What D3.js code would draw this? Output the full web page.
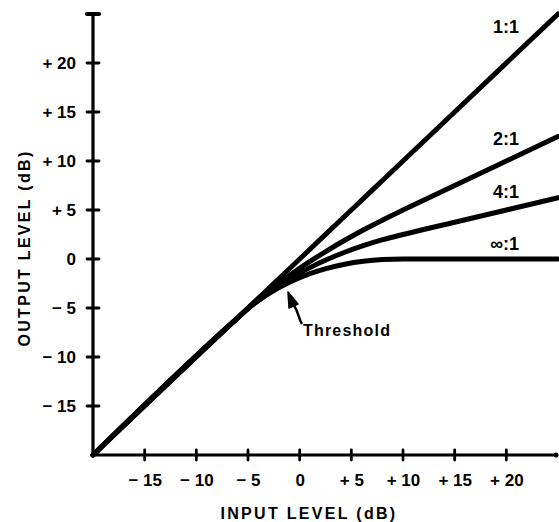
<!DOCTYPE html>
<html>
<head>
<meta charset="utf-8">
<script src="https://cdn.jsdelivr.net/npm/d3@7/dist/d3.min.js"></script>
<style>
  html, body { margin: 0; padding: 0; background: #fff; }
  svg { display: block; }
  text { font-family: "Liberation Sans", Arial, sans-serif; font-weight: bold; fill: #000; }
</style>
</head>
<body>
<svg id="chart" width="559" height="522"></svg>
<script>
// ---- data ----
const inputLevels = [-20, -6, -4.76, -3.44, -2.04, -0.56, 1.0, 2.64, 4.36, 6.16, 8.04, 10, 15, 25];
const ratio1to1   = [-20, -6, -4.76, -3.44, -2.04, -0.56, 1.0, 2.64, 4.36, 6.16, 8.04, 10, 15, 25];
const ratio2to1   = [-20, -6, -4.81, -3.64, -2.49, -1.36, -0.25, 0.84, 1.91, 2.96, 3.99, 5.0, 7.5, 12.5];
const ratio4to1   = [-20, -6, -4.84, -3.74, -2.72, -1.76, -0.88, -0.06, 0.69, 1.36, 1.97, 2.5, 3.75, 6.25];
const ratioInf    = [-20, -6, -4.86, -3.84, -2.94, -2.16, -1.5, -0.96, -0.54, -0.24, -0.06, 0, 0, 0];
const seriesNames = ["1:1", "2:1", "4:1", "∞:1"];
const xTickValues = [-15, -10, -5, 0, 5, 10, 15, 20];
const xTickLabels = ["− 15", "− 10", "− 5", "0", "+ 5", "+ 10", "+ 15", "+ 20"];
const yTickValues = [-15, -10, -5, 0, 5, 10, 15, 20];
const yTickLabels = ["− 15", "− 10", "− 5", "0", "+ 5", "+ 10", "+ 15", "+ 20"];
const xDomain = [-20, 25];
const yDomain = [-20, 25];
const xTitle = "INPUT LEVEL (dB)";
const yTitle = "OUTPUT LEVEL (dB)";
const thresholdLabel = "Threshold";

// ---- layout ----
const svg = d3.select("#chart");
const x = d3.scaleLinear().domain(xDomain).range([93, 558]);
const y = d3.scaleLinear().domain(yDomain).range([455, 14]);

const series = [ratio1to1, ratio2to1, ratio4to1, ratioInf].map((vals, i) => ({
  name: seriesNames[i],
  pts: inputLevels.map((v, j) => [v, vals[j]])
}));

// axes lines
svg.append("line").attr("x1", x(-20)).attr("x2", x(-20)).attr("y1", y(25)).attr("y2", y(-20))
  .attr("stroke", "#000").attr("stroke-width", 3.2);
svg.append("line").attr("x1", x(-20)).attr("x2", x(25) - 1).attr("y1", y(-20)).attr("y2", y(-20))
  .attr("stroke", "#000").attr("stroke-width", 3.2);
// top cap of y axis
svg.append("line").attr("x1", x(-20) - 6).attr("x2", x(-20) + 6).attr("y1", y(25)).attr("y2", y(25))
  .attr("stroke", "#000").attr("stroke-width", 4).attr("stroke-linecap", "round");
// end dot of x axis
svg.append("circle").attr("cx", x(25) - 2).attr("cy", y(-20)).attr("r", 2.5).attr("fill", "#000");

// tick crosses
svg.append("g").selectAll("line").data(yTickValues).join("line")
  .attr("x1", x(-20) - 6).attr("x2", x(-20) + 6)
  .attr("y1", d => y(d)).attr("y2", d => y(d))
  .attr("stroke", "#000").attr("stroke-width", 2.8).attr("stroke-linecap", "round");
svg.append("g").selectAll("line").data(xTickValues).join("line")
  .attr("x1", d => x(d)).attr("x2", d => x(d))
  .attr("y1", y(-20) - 5).attr("y2", y(-20) + 5)
  .attr("stroke", "#000").attr("stroke-width", 2.8).attr("stroke-linecap", "round");

// tick labels through d3 axes
const xAxis = d3.axisBottom(x).tickValues(xTickValues)
  .tickFormat((d, i) => xTickLabels[i]).tickSize(0).tickPadding(19);
const gx = svg.append("g").attr("transform", `translate(0,${y(-20)})`).call(xAxis);
gx.select(".domain").remove();
gx.selectAll("text").style("font-size", "17px").style("font-family", "'Liberation Sans', Arial, sans-serif")
  .style("font-weight", "bold").attr("fill", "#000");

const yAxis = d3.axisLeft(y).tickValues(yTickValues)
  .tickFormat((d, i) => yTickLabels[i]).tickSize(0).tickPadding(17);
const gy = svg.append("g").attr("transform", `translate(${x(-20)},0)`).call(yAxis);
gy.select(".domain").remove();
gy.selectAll("text").style("font-size", "17px").style("font-family", "'Liberation Sans', Arial, sans-serif")
  .style("font-weight", "bold").attr("fill", "#000");

// axis titles
svg.append("text").attr("x", 309).attr("y", 519).attr("text-anchor", "middle")
  .style("font-size", "16px").style("letter-spacing", "2.3px").text(xTitle);
svg.append("text").attr("transform", "translate(30,248) rotate(-90)").attr("text-anchor", "middle")
  .style("font-size", "16px").style("letter-spacing", "2.3px").text(yTitle);

// curves
const line = d3.line().x(d => x(d[0])).y(d => y(d[1])).curve(d3.curveMonotoneX);
svg.append("g").selectAll("path").data(series).join("path")
  .attr("d", d => line(d.pts))
  .attr("fill", "none").attr("stroke", "#000").attr("stroke-width", 5)
  .attr("stroke-linecap", "round").attr("stroke-linejoin", "round");

// series labels
const labelPos = [[519, 33], [519, 145], [519, 198], [519, 250]];
svg.append("g").selectAll("text").data(series).join("text")
  .attr("x", (d, i) => labelPos[i][0]).attr("y", (d, i) => labelPos[i][1])
  .attr("text-anchor", "end").style("font-size", "18px").text(d => d.name);

// threshold annotation
svg.append("path")
  .attr("d", "M302,324 C298,318 299,312 293,304")
  .attr("fill", "none").attr("stroke", "#000").attr("stroke-width", 2.5);
svg.append("path")
  .attr("d", "M288,292 L298,304 L289,308 Z")
  .attr("fill", "#000").attr("stroke", "#000").attr("stroke-width", 1.5).attr("stroke-linejoin", "round");
svg.append("text").attr("x", 303).attr("y", 336).style("font-size", "16px").style("letter-spacing", "1.2px").text(thresholdLabel);
</script>
</body>
</html>
